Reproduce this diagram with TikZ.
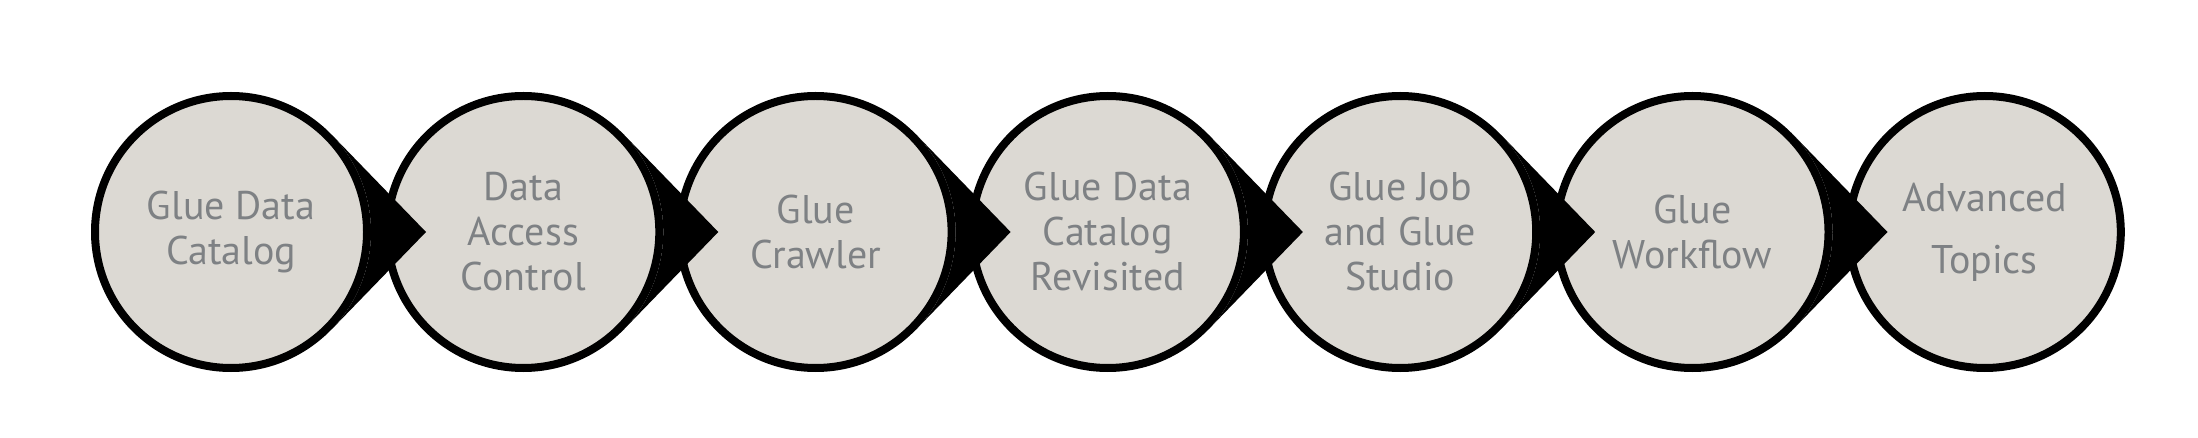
\documentclass[tikz,border=0pt]{standalone}
\usepackage{fontspec}
\setmainfont{PT Sans}
\usetikzlibrary{calc}
\definecolor{fillgrey}{HTML}{DCD9D3}
\definecolor{textgrey}{HTML}{7E8184}
\begin{document}
\begin{tikzpicture}[x=1pt,y=1pt,
  stage/.style={circle, draw=black, line width=8pt, fill=fillgrey,
    minimum size=272pt, inner sep=0pt, align=center, text=textgrey,
    font=\fontsize{40}{45}\selectfont},
  pointer/.style={fill=black}]
\useasboundingbox (0,0) rectangle (2198,-438);
\fill[white] (0,0) rectangle (2198,-438);
\node[stage] (c1) at (231,-232)    {Glue Data\\Catalog};
\node[stage] (c2) at (523.3,-232)  {Data\\Access\\Control};
\node[stage] (c3) at (815.6,-232)  {Glue\\Crawler};
\node[stage] (c4) at (1107.9,-232) {Glue Data\\Catalog\\Revisited};
\node[stage] (c5) at (1400.2,-232) {Glue Job\\and Glue\\Studio};
\node[stage] (c6) at (1692.5,-232) {Glue\\Workflow};
\node[stage, font=\fontsize{40}{62}\selectfont] (c7) at (1984.8,-232) {Advanced\\Topics};
\foreach \i in {1,...,6}{
  \coordinate (t\i) at ($(c\i.center)+(195,0)$);
  \fill[pointer] ($(c\i.center)+(44.1:140)$) -- (t\i) -- ($(c\i.center)+(-44.1:140)$)
    arc[start angle=-44.1, end angle=44.1, radius=140] -- cycle;
}
\end{tikzpicture}
\end{document}
